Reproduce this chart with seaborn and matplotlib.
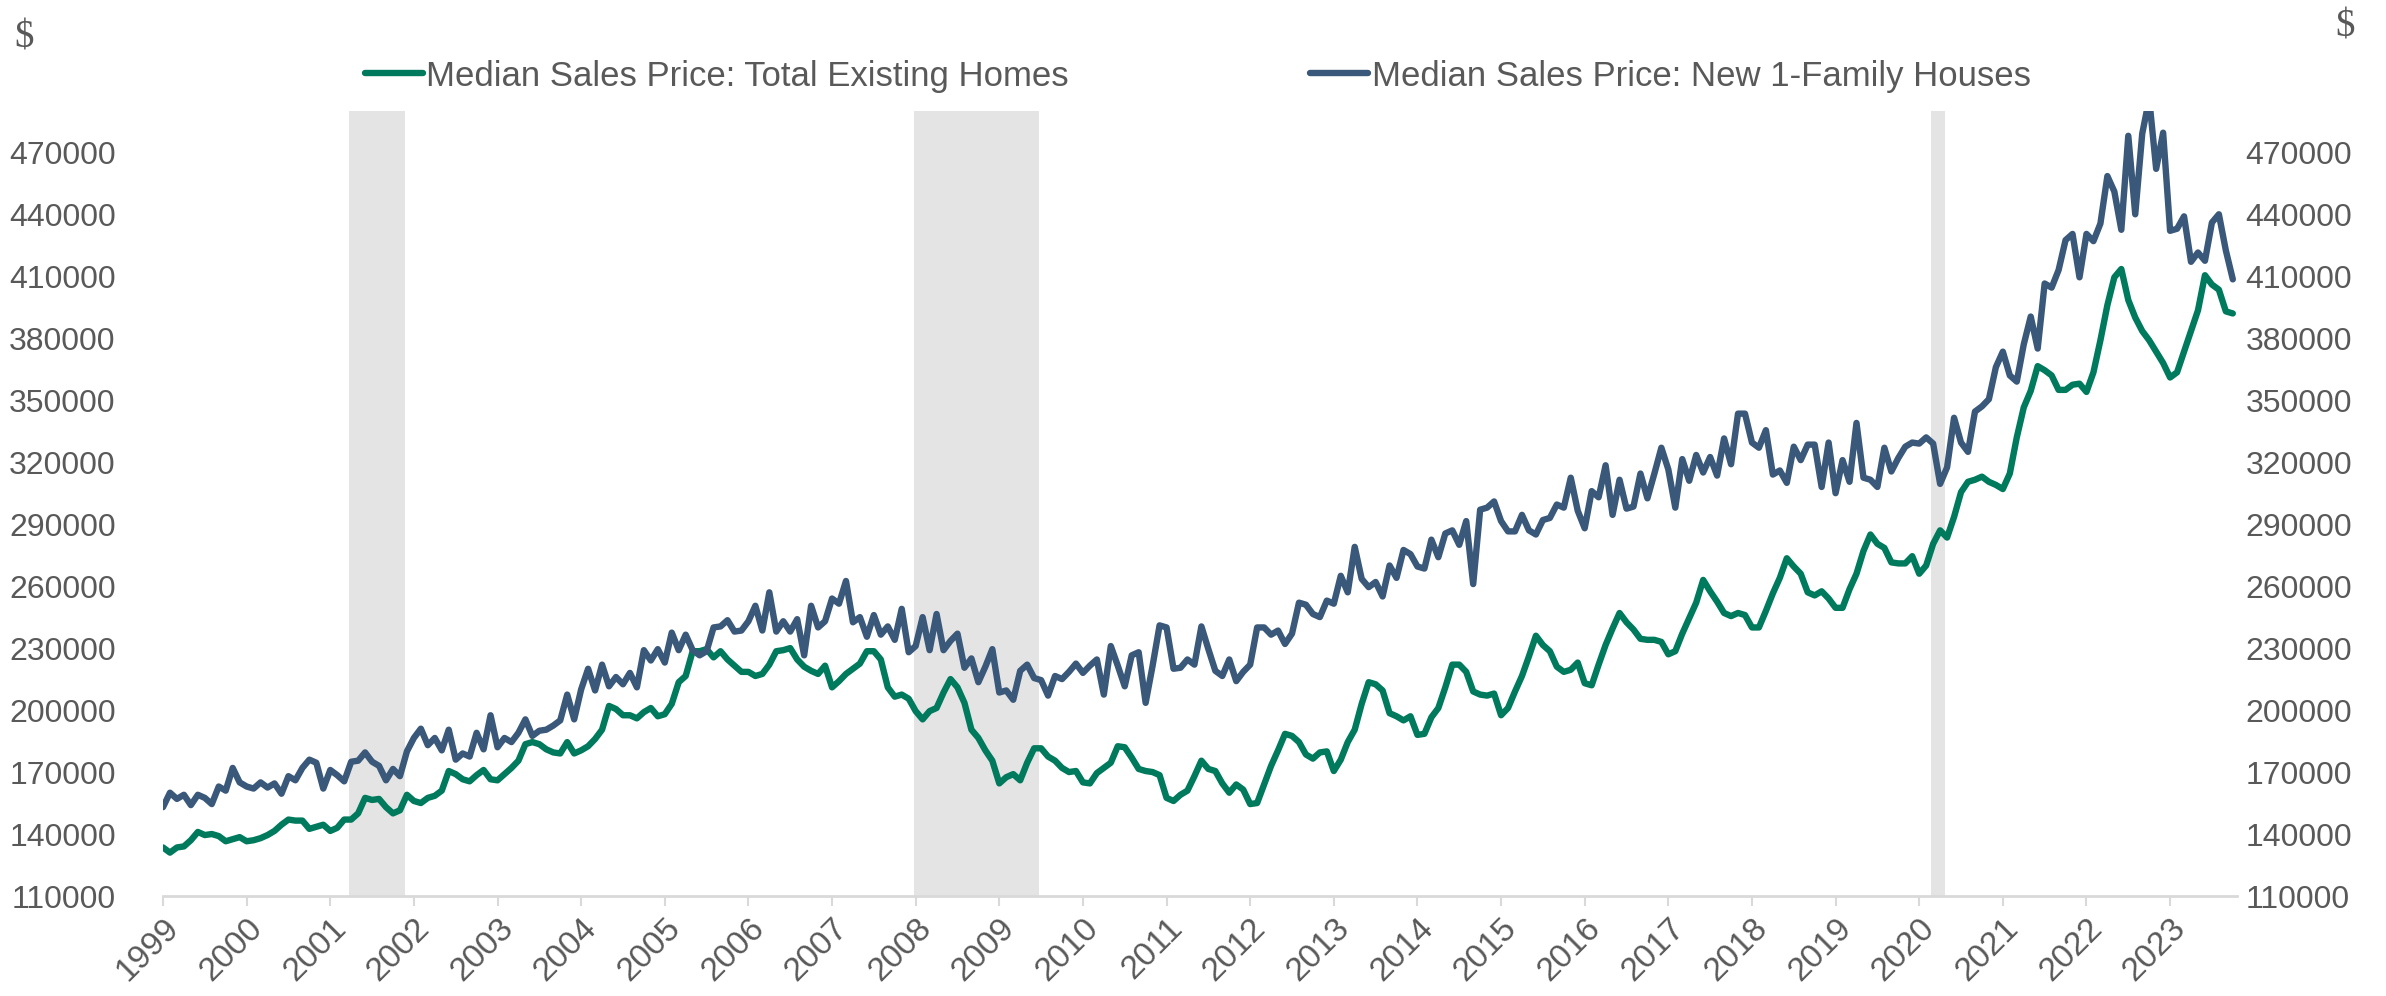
import numpy as np
import pandas as pd
import seaborn as sns
import matplotlib.pyplot as plt

# Median sales price, thousands of $, monthly from Jan 1999 (one row per year)
existing_k = [
    133.5, 131, 133.5, 134, 137, 141, 139.5, 140, 139, 136.5, 137.5, 138.5,
    136.5, 137, 138, 139.5, 141.5, 144.5, 147, 146.5, 146.5, 142.5, 143.5, 144.5,
    141.5, 143, 147, 147, 150, 157.5, 156.5, 157, 153, 150, 151.5, 159,
    156, 155, 157.5, 158.5, 161, 170.5, 169, 166.5, 165.5, 168.5, 171, 166.5,
    166, 169, 172, 175.5, 183.5, 184.5, 183.5, 181, 179.5, 179, 184.5, 179,
    180.5, 182.5, 186, 190.5, 202, 200.5, 197.5, 197.5, 196, 199, 201, 197,
    198, 203, 213.5, 216.5, 228.5, 228.5, 229.5, 225.5, 228.5, 224.5, 221.5, 218.5,
    218.5, 216.5, 217.5, 222, 228.5, 229, 230, 224.5, 221, 219, 217.5, 221.5,
    211, 214, 217.5, 220, 222.5, 228.5, 228.5, 224.5, 211, 206.5, 207.5, 205.5,
    199.5, 195.5, 199.5, 201, 208.5, 215, 211, 203.5, 190.5, 186.5, 180.5, 175.5,
    164.5, 167.5, 169, 166, 174.5, 181.5, 181.5, 177.5, 175.5, 172, 170, 170.5,
    165, 164.5, 169.5, 172, 174.5, 182.5, 182, 177, 171.5, 170.5, 170, 168.5,
    157.5, 156, 159, 161, 168, 175.5, 171.5, 170.5, 164.5, 160, 164, 161.5,
    154.5, 155, 164, 173, 180.5, 188.5, 187.5, 184.5, 178.5, 176.5, 179.5, 180,
    170.5, 176, 184.5, 190.5, 203, 213.5, 212.5, 209.5, 198.5, 197, 195, 197,
    188, 188.5, 196.5, 201, 211, 222, 222, 218.5, 209, 207.5, 207, 208,
    197.5, 201, 209, 216.5, 226, 236, 231.5, 228.5, 221, 218.5, 219.5, 223,
    213, 212, 222, 231.5, 239.5, 247, 242.5, 239, 234.5, 234, 234, 233,
    227, 228.5, 237, 244.5, 252, 263, 257.5, 252.5, 247, 245.5, 247, 246,
    240, 240, 248, 256.5, 264, 273.5, 269.5, 266, 257, 255.5, 257.5, 254,
    249.5, 249.5, 258.5, 266, 277, 285, 280.5, 278.5, 271.5, 271, 271, 274.5,
    266, 270, 280.5, 287, 283.5, 293.5, 305.5, 310.5, 311.5, 313, 310.5, 309,
    307, 314.5, 332, 346.5, 354.5, 366.5, 364.5, 362, 355, 355, 357.5, 358,
    354, 363.5, 379, 396, 409.5, 413.5, 398.5, 390, 383.5, 379, 373.5, 368,
    361, 363.5, 373.5, 383.5, 393.5, 410.5, 406, 403.5, 393, 392,
]
new_homes_k = [
    153, 160, 157, 159, 154, 159, 157.5, 154.5, 163, 161, 172, 165,
    163, 162, 165, 162.5, 164.5, 159.5, 168, 166, 172, 176, 174.5, 162,
    171, 168.5, 165.5, 175, 175.5, 179.5, 175, 173, 166, 171.5, 168, 180,
    186.5, 191, 183, 186.5, 180.5, 190.5, 176, 179, 177.5, 189, 181, 197.5,
    182, 186.5, 184.5, 189, 195.5, 187.5, 190, 190.5, 192.5, 195, 207.5, 195.5,
    210, 220, 209.5, 222, 211.5, 216, 212.5, 218, 211, 229, 224, 229.5,
    223, 237.5, 229, 236.5, 229, 226.5, 228.5, 240, 240.5, 243.5, 238, 238.5,
    243, 250.5, 238.5, 257, 238, 243, 238, 244, 226.5, 250.5, 240, 243,
    254, 251.5, 262.5, 242.5, 245, 235.5, 246, 236.5, 240.5, 234, 249, 228,
    231, 245, 229, 246.5, 229, 233.5, 237, 220.5, 225, 213.5, 221, 229.5,
    208.5, 209.5, 205, 219, 222, 215.5, 214.5, 207, 216.5, 215, 218.5, 222.5,
    218, 221.5, 224.5, 207.5, 231, 221.5, 211.5, 226.5, 228, 203.5, 221.5, 241,
    240, 220, 220.5, 224.5, 222, 240.5, 229.5, 219, 216.5, 224.5, 214, 218.5,
    222, 240, 240, 236.5, 238.5, 232, 237, 252, 251, 246.5, 245, 253,
    251.5, 265, 257, 279, 263.5, 259.5, 262, 255, 270, 264, 277.5, 275.5,
    269.5, 268.5, 282.5, 274, 285.5, 287, 280, 291.5, 261, 297, 298, 301,
    291.5, 286.5, 286.5, 294.5, 287, 285, 292, 293, 299.5, 298, 312.5, 296.5,
    288, 306, 303, 318.5, 294.5, 311.5, 297.5, 298.5, 314.5, 302.5, 314.5, 327,
    316.5, 298, 321.5, 311, 323.5, 315, 322.5, 313.5, 331.5, 319, 343.5, 343.5,
    329.5, 327, 335.5, 314, 316, 310, 327.5, 321, 328.5, 328.5, 308, 329.5,
    305, 321, 310.5, 339, 312.5, 311.5, 308, 327, 315.5, 322, 327.5, 329.5,
    329, 332, 329, 309.5, 317.5, 341.5, 329.5, 325, 344.5, 347, 350.5, 366,
    373.5, 362, 359, 377, 390.5, 375, 406.5, 404.5, 413, 427.5, 430.5, 409.5,
    430.5, 427, 435.5, 458.5, 451, 432.5, 478, 440, 479, 496, 462, 479.5,
    432, 433, 439, 417, 421.5, 417.5, 436, 440, 422.5, 408.5,
]
recession_start = ["2001-03", "2007-12", "2020-02"]
recession_end = ["2001-11", "2009-06", "2020-04"]
years = list(range(1999, 2024))
yticks = list(range(110000, 470001, 30000))

label_existing = "Median Sales Price: Total Existing Homes"
label_new = "Median Sales Price: New 1-Family Houses"

green = "#007A5C"
blue = "#3A5879"
grey_txt = "#595959"

df = pd.DataFrame({
    "m": np.arange(len(existing_k)),
    "existing": np.array(existing_k) * 1000,
    "new": np.array(new_homes_k) * 1000,
})


def month_idx(s):
    y, m = s.split("-")
    return (int(y) - 1999) * 12 + int(m) - 1


sns.set_style("white")
plt.rcParams["font.family"] = ["Liberation Sans", "DejaVu Sans"]

fig = plt.figure(figsize=(23.86, 9.96), dpi=100)
ax = fig.add_axes([163 / 2386, 1 - 896 / 996, (2237 - 163) / 2386, (896 - 111) / 996])

for s, e in zip(recession_start, recession_end):
    ax.axvspan(month_idx(s) + 0.7, month_idx(e) + 0.7, color="#E4E4E4", lw=0, zorder=0)

sns.lineplot(data=df, x="m", y="existing", ax=ax, color=green, linewidth=4.6,
             label=label_existing, legend=False, zorder=3)
ax2 = ax.twinx()
sns.lineplot(data=df, x="m", y="new", ax=ax2, color=blue, linewidth=4.6,
             label=label_new, legend=False, zorder=3)

for a in (ax, ax2):
    a.set_ylim(110000, 490000)
    a.set_xlim(0, 297.6)
    a.set_yticks(yticks)
    a.set_yticklabels([str(v) for v in yticks])
    a.set_xlabel("")
    a.set_ylabel("")
    for sp in a.spines.values():
        sp.set_visible(False)
    for line in a.get_lines():
        line.set_linewidth(4.6)
        line.set_solid_joinstyle("round")
        line.set_solid_capstyle("round")

ax.spines["bottom"].set_visible(True)
ax.spines["bottom"].set_color("#D9D9D9")
ax.spines["bottom"].set_linewidth(2)
ax.set_xticks([(y - 1999) * 12 for y in years])
ax.set_xticklabels([str(y) for y in years], rotation=45, ha="right",
                   rotation_mode="anchor", va="top")
ax.tick_params(axis="x", length=7, width=1.5, color="#D9D9D9", pad=5,
               labelsize=24, labelcolor=grey_txt, direction="out", bottom=True)
ax.tick_params(axis="y", length=0, pad=34, labelsize=23, labelcolor=grey_txt)
ax2.tick_params(axis="y", length=0, pad=6, labelsize=23, labelcolor=grey_txt)

fig.text(24 / 2386, 1 - 38 / 996, "$", family="Liberation Serif", fontsize=28,
         color=grey_txt, ha="center", va="center")
fig.text(2345 / 2386, 1 - 27 / 996, "$", family="Liberation Serif", fontsize=28,
         color=grey_txt, ha="center", va="center")

handles = ax.get_lines()[:1] + ax2.get_lines()[:1]
fig.legend(handles, [label_existing, label_new], loc="center left",
           bbox_to_anchor=(365 / 2386, 1 - 76 / 996), ncol=2, frameon=False,
           fontsize=25, labelcolor=grey_txt, handlelength=1.67,
           handletextpad=0.1, columnspacing=6.95, borderpad=0, borderaxespad=0)

plt.savefig("out.png", dpi=100)
